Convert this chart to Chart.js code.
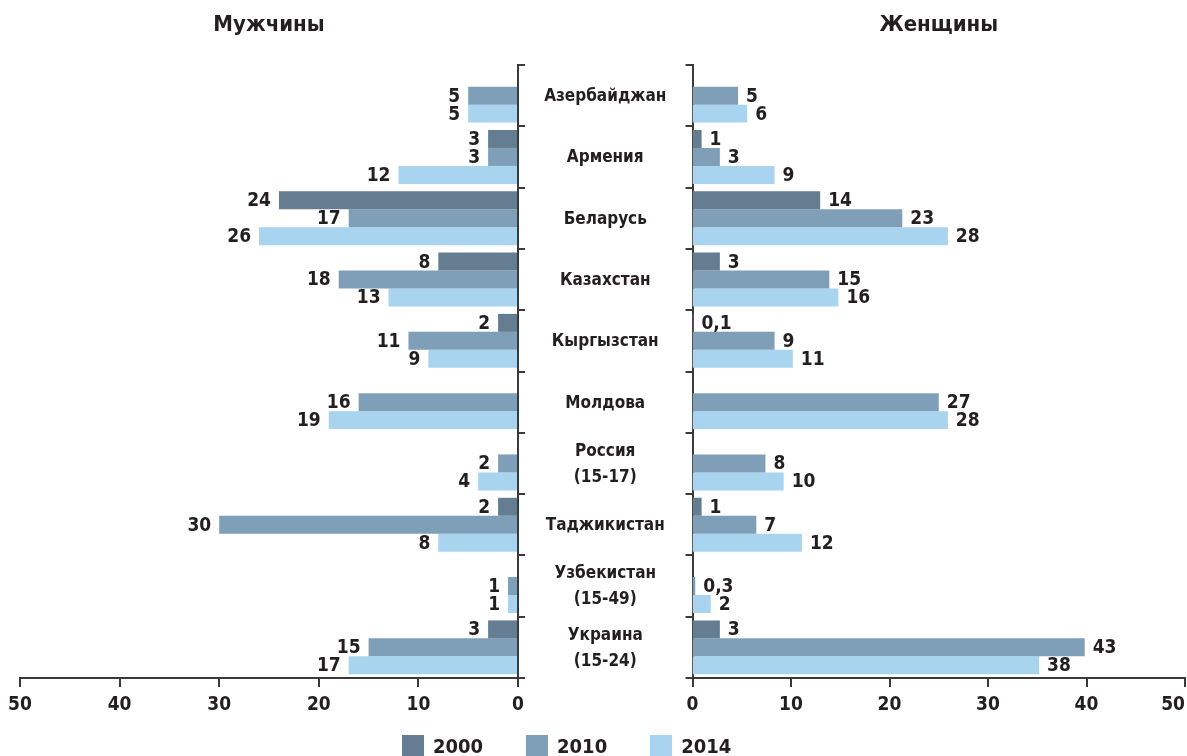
<!DOCTYPE html>
<html lang="ru">
<head>
<meta charset="utf-8">
<title>Мужчины / Женщины</title>
<script src="https://cdn.jsdelivr.net/npm/chart.js@4.4.1/dist/chart.umd.min.js"></script>
<style>
    html, body { margin: 0; padding: 0; background: #fff; overflow: hidden; }
    #wrap { position: relative; width: 1187px; height: 756px; overflow: hidden; }
    #menChart { position: absolute; left: 0; top: 0; }
    #womenChart { position: absolute; left: 518px; top: 0; }
    #legend {
        position: absolute; left: 402px; top: 734px; display: flex;
        font-family: "Liberation Sans Narrow", "Arial Narrow", "DejaVu Sans Condensed", sans-serif;
        font-weight: bold; font-size: 20px; color: #231f20;
    }
    .item { display: flex; align-items: center; margin-right: 43px; }
    .swatch { width: 22px; height: 22px; margin-right: 9px; }
</style>
</head>
<body>
<div id="wrap">
    <canvas id="menChart" width="540" height="756"></canvas>
    <canvas id="womenChart" width="700" height="756"></canvas>
    <div id="legend"></div>
</div>
<script>
const FONT = '"Liberation Sans Narrow", "Arial Narrow", "DejaVu Sans Condensed", sans-serif';
const TEXT = '#231f20';
const AXIS = '#3a3a3a';

// Categories (new line = second row of the label)
const categories = ['Азербайджан', 'Армения', 'Беларусь', 'Казахстан', 'Кыргызстан', 'Молдова',
    'Россия\n(15-17)', 'Таджикистан', 'Узбекистан\n(15-49)', 'Украина\n(15-24)'];
const years = ['2000', '2010', '2014'];
const yearColors = ['#647d91', '#7f9fb8', '#a9d4ef'];

// Men
const men2000 = [null, 3, 24, 8, 2, null, null, 2, null, 3];
const men2010 = [5, 3, 17, 18, 11, 16, 2, 30, 1, 15];
const men2014 = [5, 12, 26, 13, 9, 19, 4, 8, 1, 17];

// Women
const women2000 = [null, 1, 14, 3, 0.1, null, null, 1, null, 3];
const women2010 = [5, 3, 23, 15, 9, 27, 8, 7, 0.3, 43];
const women2014 = [6, 9, 28, 16, 11, 28, 10, 12, 2, 38];

const xTicks = [0, 10, 20, 30, 40, 50];

Chart.defaults.font.family = FONT;
Chart.defaults.font.weight = 'bold';
Chart.defaults.color = TEXT;

function fmt(v) {
    return String(v).replace('.', ',');
}

function makeDatasets(series) {
    return series.map((data, i) => ({
        label: years[i],
        data: data,
        backgroundColor: yearColors[i],
        borderWidth: 0,
        categoryPercentage: 0.88,
        barPercentage: 1.0
    }));
}

// Numbers at the end of each bar
const valueLabels = {
    id: 'valueLabels',
    afterDatasetsDraw(chart, args, opts) {
        const ctx = chart.ctx;
        ctx.save();
        ctx.font = 'bold 19px ' + FONT;
        ctx.fillStyle = TEXT;
        ctx.textBaseline = 'middle';
        ctx.textAlign = opts.side === 'left' ? 'right' : 'left';
        chart.data.datasets.forEach((ds, di) => {
            chart.getDatasetMeta(di).data.forEach((bar, i) => {
                const v = ds.data[i];
                if (v === null) return;
                const x = opts.side === 'left' ? bar.x - 8 : bar.x + 8;
                ctx.fillText(fmt(v), x, bar.y + 1);
            });
        });
        ctx.restore();
    }
};

// Country names in the gap between the two panels
const categoryLabels = {
    id: 'categoryLabels',
    afterDraw(chart) {
        const ctx = chart.ctx;
        const yScale = chart.scales.y;
        const cx = chart.chartArea.left / 2;
        const lineH = 26;
        ctx.save();
        ctx.font = 'bold 17px ' + FONT;
        ctx.fillStyle = TEXT;
        ctx.textAlign = 'center';
        ctx.textBaseline = 'middle';
        categories.forEach((c, i) => {
            const lines = c.split('\n');
            const y0 = yScale.getPixelForValue(i) - (lines.length - 1) * lineH / 2 + 1;
            lines.forEach((ln, k) => ctx.fillText(ln, cx, y0 + k * lineH));
        });
        ctx.restore();
    }
};

function axisX(reverse) {
    return {
        type: 'linear',
        axis: 'x',
        position: 'bottom',
        reverse: reverse,
        min: 0,
        max: 50,
        afterBuildTicks: s => { s.ticks = xTicks.map(v => ({ value: v })); },
        afterFit: s => { s.height = 45; },
        ticks: {
            font: { size: 19, weight: 'bold' }, color: TEXT, padding: 7, maxRotation: 0,
            // last label on the right panel is pulled in so it stays inside the picture
            callback: (v, i, t) => (!reverse && i === t.length - 1) ? v + '\u2007\u2007' : v
        },
        grid: { drawOnChartArea: false, drawTicks: true, tickLength: 9, color: AXIS, lineWidth: 2 },
        border: { display: true, color: AXIS, width: 2 }
    };
}

function axisY(position, width) {
    return {
        position: position,
        afterFit: s => { s.width = width; },
        ticks: { display: false },
        grid: { drawOnChartArea: false, drawTicks: true, tickLength: 7, color: AXIS, lineWidth: 2, offset: true },
        border: { display: true, color: AXIS, width: 2 }
    };
}

function titleOpts(text) {
    return {
        display: true,
        text: text,
        fullSize: false,
        color: TEXT,
        font: { size: 22, weight: 'bold' },
        padding: { top: 12, bottom: 26.6 }
    };
}

const menChart = new Chart(document.getElementById('menChart'), {
    type: 'bar',
    data: { labels: categories, datasets: makeDatasets([men2000, men2010, men2014]) },
    options: {
        indexAxis: 'y',
        responsive: false,
        animation: false,
        layout: { padding: { top: 0, left: 20, right: 13, bottom: 33 } },
        scales: {
            x: axisX(true),
            y: axisY('right', 9)
        },
        plugins: {
            legend: { display: false },
            tooltip: { enabled: false },
            title: titleOpts('Мужчины'),
            valueLabels: { side: 'left' }
        }
    },
    plugins: [valueLabels]
});

// The women's bars in the original are drawn a bit shorter than the tick scale,
// so bars use their own hidden axis and the printed 0-50 axis sits on top.
const womenChart = new Chart(document.getElementById('womenChart'), {
    type: 'bar',
    data: { labels: categories, datasets: makeDatasets([women2000, women2010, women2014]) },
    options: {
        indexAxis: 'y',
        responsive: false,
        animation: false,
        layout: { padding: { top: 0, left: 0, right: 33, bottom: 33 } },
        scales: {
            x: { type: 'linear', min: 0, max: 54, display: false },
            x2: axisX(false),
            y: axisY('left', 174.5)
        },
        plugins: {
            legend: { display: false },
            tooltip: { enabled: false },
            title: titleOpts('Женщины'),
            valueLabels: { side: 'right' }
        }
    },
    plugins: [valueLabels, categoryLabels]
});

// Legend
const legendEl = document.getElementById('legend');
years.forEach((y, i) => {
    const item = document.createElement('div');
    item.className = 'item';
    item.innerHTML = '<span class="swatch" style="background:' + yearColors[i] + '"></span><span>' + y + '</span>';
    legendEl.appendChild(item);
});
</script>
</body>
</html>
